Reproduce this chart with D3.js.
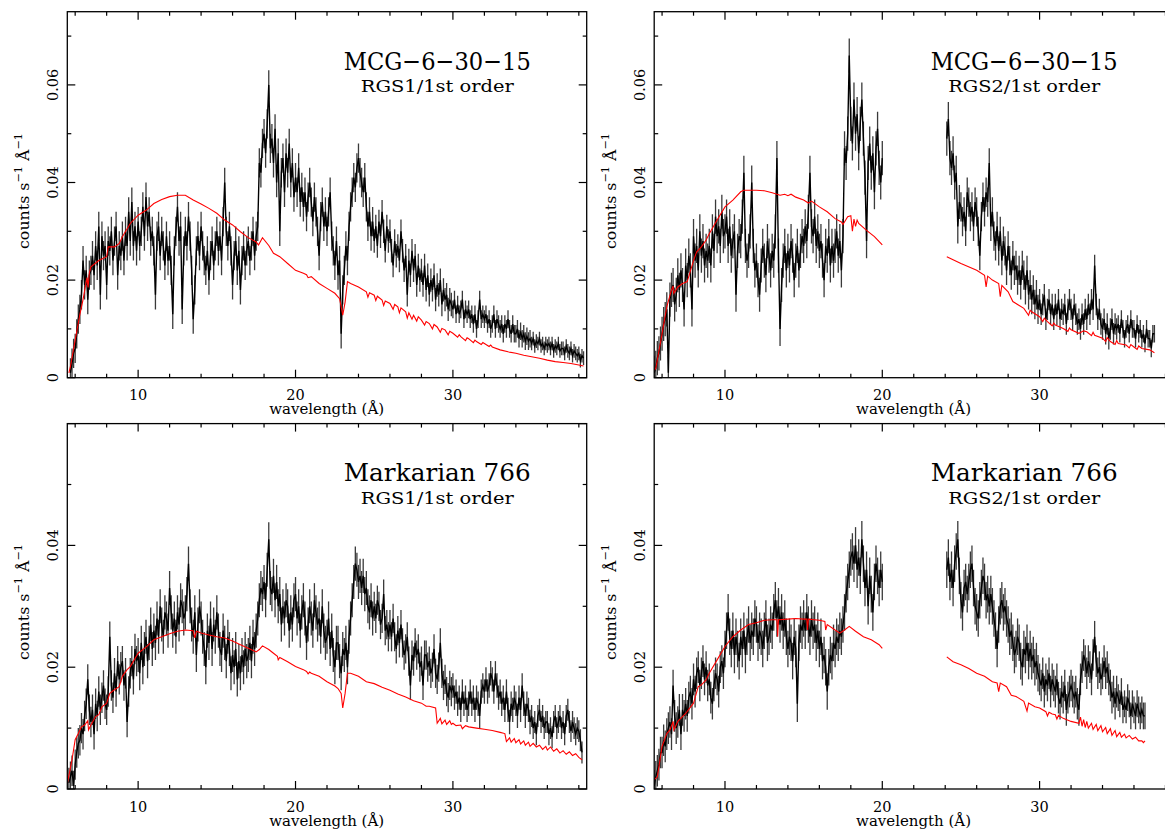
<!DOCTYPE html>
<html>
<head>
<meta charset="utf-8">
<script src="https://cdn.jsdelivr.net/npm/d3@7"></script>
<style>
  html, body { margin: 0; padding: 0; background: #fff; }
  svg { display: block; }
  text { font-family: "DejaVu Serif", "Liberation Serif", serif; fill: #000; }
</style>
</head>
<body>
<svg id="chart" width="1165" height="832"></svg>
<script>
// Rates are in units of 1e-3 counts s^-1 Å^-1; spectra are binned every 0.1 Å.
const STEP = 0.1;

// ---------- MCG-6-30-15, RGS1 ----------
const mcgRgs1Start = 5.7;
const mcgRgs1Rate = [
  1, 3, 5,
  6, 9, 12, 14, 17, 24, 19, 22, 16, 21,
  22, 25, 21, 27, 23, 31, 17, 29, 25, 27,
  19, 28, 26, 30, 24, 28, 31, 21, 27, 25,
  29, 24, 30, 27, 34, 28, 36, 27, 31, 26,
  32, 27, 30, 35, 29, 37, 31, 34, 28, 30,
  26, 17, 29, 31, 25, 30, 27, 23, 29, 24,
  27, 22, 13, 26, 30, 35, 28, 31, 14, 26,
  30, 27, 33, 29, 22, 12, 18, 26, 29, 25,
  31, 27, 24, 22, 26, 20, 25, 28, 23, 27,
  30, 26, 29, 24, 32, 40, 30, 27, 31, 26,
  19, 25, 28, 22, 26, 18, 24, 27, 23, 26,
  28, 24, 27, 30, 25, 29, 31, 44, 42, 48,
  50, 46, 52, 60, 47, 49, 44, 51, 40, 46,
  30, 42, 45, 38, 46, 42, 48, 40, 44, 37,
  41, 38, 43, 36, 39, 35, 38, 33, 37, 40,
  36, 32, 37, 34, 30, 25, 33, 36, 31, 34,
  30, 34, 38, 29, 26, 23, 28, 21, 24, 9,
  18, 22, 27, 24, 31, 35, 38, 41, 39, 43,
  45, 42, 40, 38, 41, 35, 31, 34, 29, 32,
  28, 31, 27, 32, 29, 34, 30, 26, 31, 28,
  30, 26, 23, 28, 25, 27, 24, 30, 26, 22,
  25, 17, 24, 21, 26, 22, 25, 19, 23, 20,
  22, 19, 23, 18, 21, 17, 20, 18, 21, 16,
  19, 17, 20, 15, 18, 16, 17, 14, 16, 15,
  14, 16, 13, 15, 13, 14, 16, 12, 14, 13,
  14, 12, 13, 11, 13, 10, 12, 16, 12, 13,
  12, 13, 11, 12, 10, 11, 13, 10, 12, 11,
  10, 11, 9, 11, 10, 12, 10, 9, 11, 9,
  9, 10, 8, 9.5, 8, 9, 7.5, 8.5, 7.5, 8,
  7, 8, 6.5, 7.5, 7, 8, 6.5, 7, 6, 7,
  6.5, 7, 6, 7, 5.5, 6.5, 6, 7, 5.5, 6,
  6, 5, 6.5, 5.5, 5, 6, 4.5, 5.5, 5, 4.5,
  5, 3.5, 4.5, 4
];
// error half-widths for 5 Å blocks starting at 5 Å
const mcgRgs1Err = [3.0, 3.0, 3.0, 3.0, 2.4, 1.8, 1.4];
const mcgRgs1Model = [
  [5.6,1],[5.7,2.3],[6.0,7.7],[6.3,13],[6.5,16],[6.75,20.5],[6.82,18.5],[6.9,21.5],[7.0,22.7],
  [7.5,24],[8.0,24.8],[8.1,26.8],[8.5,26.8],[8.8,27.5],[9.0,28.9],[9.5,31.6],[10,33.3],
  [10.5,34.3],[11,35.7],[11.5,36.5],[12,37.1],[12.5,37.4],[13,37.4],[13.5,36.4],[14,35.6],
  [14.5,34.7],[15,33.7],[15.5,32.3],[16,31.3],[16.5,29.9],[17,28.7],[17.5,27.8],[17.65,27.2],
  [17.9,28.7],[18.3,27.1],[18.6,25.5],[19,24.8],[19.5,23.4],[20,22],[20.5,21.4],[20.7,21.1],
  [20.8,20.5],[21,20.7],[21.5,19.3],[22,18.3],[22.5,17.3],[22.8,16.2],[22.9,14.5],[23.0,12.8],
  [23.15,15.5],[23.3,19.7],[23.5,19.3],[24,18.6],[24.5,17.6],[24.6,16.5],[24.7,17.4],[25,16.9],
  [25.1,15.8],[25.2,16.7],[25.5,15.9],[25.6,14.8],[25.7,15.7],[26,15.2],[26.2,14.0],[26.3,15.0],
  [26.5,14.5],[26.6,13.3],[26.7,14.3],[27,13.5],[27.1,12.2],[27.2,13.3],[27.4,12.0],[27.5,12.8],
  [27.7,11.6],[27.8,12.5],[28,11.8],[28.2,10.8],[28.3,11.5],[28.5,11.1],[28.7,10.0],[28.8,10.9],
  [29,10.4],[29.2,9.3],[29.3,10.1],[29.5,9.8],[29.7,8.8],[29.8,9.5],[30,9.1],[30.3,8.3],[30.4,8.8],
  [30.5,8.4],[30.8,7.6],[30.9,8.2],[31,8],[31.3,7.2],[31.4,7.7],[31.5,7.4],[31.8,6.8],[31.9,7.2],
  [32,7],[32.3,6.4],[32.4,6.7],[32.5,6.3],[33,5.7],[33.5,5.3],[34,5],[34.5,4.6],[35,4.3],
  [35.5,4.0],[36,3.6],[36.5,3.3],[37,3.1],[37.5,2.9],[38,2.6],[38.3,2.4]
];

// ---------- MCG-6-30-15, RGS2 (no coverage 20–24 Å) ----------
const mcgRgs2StartA = 5.5;
const mcgRgs2RateA = [
  1, 2, 4, 5, 7,
  9, 11, 12, 14, 1, 16, 18, 19, 15, 17,
  21, 18, 22, 19, 14, 23, 20, 25, 22, 14,
  29, 24, 27, 22, 30, 25, 28, 23, 26, 24,
  27, 23, 30, 26, 33, 29, 31, 27, 34, 29,
  30, 33, 27, 31, 25, 28, 30, 17, 26, 29,
  28, 33, 42, 27, 24, 26, 30, 40, 27, 22,
  24, 20, 17, 23, 27, 24, 21, 28, 25, 22,
  26, 24, 30, 45, 25, 10, 19, 24, 27, 22,
  26, 23, 28, 25, 20, 24, 27, 22, 26, 29,
  27, 31, 28, 34, 42, 31, 29, 33, 27, 30,
  26, 28, 24, 20, 27, 25, 29, 23, 27, 24,
  27, 30, 25, 28, 22, 29, 47, 44, 50, 66,
  52, 48, 57, 50, 54, 46, 52, 57, 49, 41,
  28, 44, 48, 42, 46, 38, 47, 51, 43, 40,
  45
];
const mcgRgs2StartB = 24.1;
const mcgRgs2RateB = [
  49, 53, 45, 43, 46, 40, 42, 31, 36,
  35, 32, 34, 30, 38, 36, 33, 35, 31, 36,
  34, 30, 25, 33, 37, 34, 38, 36, 44, 31,
  34, 29, 27, 31, 26, 30, 24, 28, 26, 22,
  27, 24, 21, 25, 22, 23, 20, 22, 19, 23,
  21, 18, 22, 17, 19, 16, 18, 15, 17, 14,
  16, 13, 15, 17, 12, 14, 16, 13, 15, 12,
  15, 13, 16, 12, 14, 13, 15, 11, 14, 16,
  14, 12, 15, 13, 11, 12, 10, 13, 11, 14,
  12, 15, 13, 16, 14, 23, 15, 12, 14, 11,
  10, 12, 9, 11, 8, 10, 12, 9, 11, 10,
  11, 9, 12, 10, 8, 10, 11, 9, 12, 10,
  10, 8, 11, 9, 10, 8, 9, 7, 10, 8,
  8, 6, 9, 9
];
const mcgRgs2Err = [3.5, 3.5, 3.5, 3.5, 3.0, 2.2, 1.8];
const mcgRgs2ModelA = [
  [5.5,1.5],[5.6,1.9],[6.0,9],[6.3,14.5],[6.6,18],[6.7,18.8],[6.75,17.3],[7.0,18.6],[7.3,19.3],
  [7.6,19.7],[8.0,24],[8.2,25.8],[8.5,26.8],[8.8,28.2],[9,29.5],[9.5,32.3],[10,35],[10.5,36.4],
  [11,38.1],[11.2,38.4],[12,38.4],[12.5,38.3],[13,37.9],[13.5,37.4],[13.8,37.6],[14,37.3],
  [14.2,37.6],[14.5,37],[15,36.4],[15.3,35.8],[15.5,36.2],[16,35],[16.5,34],[17,32.6],[17.4,31.9],
  [17.5,31.4],[17.8,33],[18.0,33.2],[18.1,30],[18.2,32.5],[18.3,31],[18.4,32.3],[18.5,31.6],
  [19,30.2],[19.5,28.9],[20,27.2]
];
const mcgRgs2ModelB = [
  [24.1,24.8],[25,23.4],[26,22],[26.5,21],[26.6,18.6],[26.7,20.8],[27,20],[27.4,19.3],[27.5,16.6],
  [27.6,18.9],[28,17.6],[28.3,15.6],[28.5,15.2],[29,14.2],[29.3,12.8],[29.4,13.8],[29.5,13.5],
  [30,12.5],[30.2,11.5],[30.3,12.2],[30.5,11.5],[30.8,10.6],[30.9,11.2],[31,10.8],[31.5,10.1],
  [31.8,9.5],[31.9,10.2],[32,9.8],[32.5,9.1],[32.8,9.6],[33,9.4],[33.3,8.6],[33.4,9.3],[33.5,8.7],
  [34,8.1],[34.2,7.4],[34.3,8.2],[34.5,7.4],[34.8,6.8],[34.9,7.6],[35,7],[35.5,6.7],[35.7,6.1],
  [35.8,6.8],[36,6.3],[36.2,5.8],[36.3,6.5],[36.5,6],[37,5.7],[37.3,5.1]
];

// ---------- Markarian 766, RGS1 ----------
const mrkRgs1Start = 5.6;
const mrkRgs1Rate = [
  1, 2, 3, 0.5,
  4, 6, 7.5, 8, 10, 9, 12, 14, 18, 13,
  11, 13, 9, 14, 12, 16, 13, 15, 17, 14,
  13, 16, 25, 17, 15, 19, 16, 21, 18, 20,
  21, 17, 19, 11, 16, 19, 21, 18, 23, 21,
  22, 19, 24, 20, 23, 25, 21, 24, 27, 23,
  26, 24, 28, 25, 30, 27, 25, 29, 28, 26,
  33, 29, 26, 28, 25, 29, 27, 31, 30, 28,
  29, 32, 37, 30, 27, 25, 29, 22, 27, 30,
  28, 25, 23, 20, 26, 24, 28, 23, 27, 25,
  29, 26, 23, 22, 26, 24, 21, 25, 23, 19,
  22, 20, 23, 18, 21, 19, 22, 20, 23, 21,
  22, 24, 21, 25, 23, 26, 28, 31, 33, 32,
  34, 31, 36, 41, 33, 32, 35, 31, 34, 30,
  32, 27, 30, 28, 31, 30, 26, 29, 27, 31,
  32, 28, 30, 26, 29, 31, 28, 24, 27, 30,
  28, 26, 31, 29, 27, 28, 25, 30, 26, 24,
  25, 28, 23, 26, 22, 20, 24, 24, 21, 19,
  23, 22, 24, 20, 25, 28, 31, 34, 37, 36,
  34, 35, 33, 35, 32, 33, 30, 29, 31, 28,
  30, 28, 31, 30, 27, 28, 32, 26, 27, 25,
  27, 25, 28, 25, 23, 26, 24, 27, 24, 22,
  23, 25, 21, 17, 22, 21, 24, 22, 23, 20,
  21, 17, 22, 22, 20, 21, 19, 20, 23, 19,
  18, 20, 24, 19, 17, 18, 16, 15, 17, 16,
  17, 15, 16, 14, 15, 13, 16, 14, 15, 13,
  14, 16, 14, 15, 13, 15, 14, 12, 16, 17,
  16, 18, 16, 17, 19, 18, 16, 19, 17, 15,
  16, 14, 15, 13, 16, 13, 11, 14, 13, 15,
  14, 12, 15, 13, 17, 14, 12, 14, 13, 11,
  12, 10, 11, 9, 12, 13, 11, 12, 10, 11,
  11, 9, 10, 8.5, 11, 12, 10, 11, 12, 10,
  11, 9, 12, 13, 11, 9.5, 11, 10, 9, 10,
  9.5, 8, 6
];
const mrkRgs1Err = [2.5, 2.8, 2.8, 2.8, 2.4, 2.0, 1.8];
const mrkRgs1Model = [
  [5.5,0.9],[5.8,4.8],[6.0,8.1],[6.2,9.1],[6.4,10.2],[6.6,10.5],[6.8,11.2],[6.85,9.7],[7.0,10.5],
  [7.3,11.9],[7.5,12.2],[7.7,13.5],[8,14.1],[8.2,15.7],[8.5,16.3],[8.8,16.8],[9,18.5],[9.3,19.6],
  [9.5,20.1],[10,22.3],[10.5,23.3],[11,24.5],[11.5,25],[12,25.5],[12.5,25.9],[13,26.1],[13.5,26],
  [13.6,24.8],[13.7,25.9],[14,25.6],[14.5,25.3],[15,25],[15.5,24.8],[16,24.3],[16.5,23.7],
  [17,23.1],[17.5,22.5],[17.7,22.9],[17.9,23.5],[18.3,22.9],[18.6,22.3],[18.85,21.8],[18.9,21.2],
  [19,21.6],[19.5,20.9],[20,20.1],[20.5,19.6],[20.7,19.3],[20.8,18.9],[20.9,19.2],[21,19],
  [21.5,18.5],[22,17.6],[22.5,16.9],[22.7,16.5],[22.9,15.7],[23.0,13.3],[23.15,15.7],[23.3,19],
  [23.5,19],[24,18.5],[24.5,17.6],[25,17.3],[25.5,16.7],[26,16.2],[26.5,15.6],[27,15.1],
  [27.5,14.5],[28,14.1],[28.3,13.6],[28.5,13.6],[28.9,13.3],[29.0,10.8],[29.2,11.6],[29.3,10.7],
  [29.5,11.3],[29.6,10.6],[29.8,11.2],[29.9,10.6],[30,10.8],[30.2,10.4],[30.5,10.5],[30.6,9.9],
  [30.8,10.4],[31,10.2],[31.5,10],[32,9.8],[32.5,9.6],[33,9.3],[33.3,9.1],[33.4,7.8],[33.6,8.4],
  [33.7,7.7],[33.9,8.3],[34.0,7.6],[34.2,8.1],[34.3,7.4],[34.5,7.9],[34.6,7.2],[34.8,7.7],
  [34.9,7],[35.1,7.5],[35.3,6.9],[35.5,7.2],[35.7,6.5],[35.9,7.0],[36,6.4],[36.2,6.9],[36.4,6.2],
  [36.6,6.6],[36.8,5.9],[37,6.3],[37.2,5.7],[37.4,6.1],[37.6,5.5],[37.8,5.8],[38,5.2],[38.2,4.8]
];

// ---------- Markarian 766, RGS2 (no coverage 20–24 Å) ----------
const mrkRgs2StartA = 5.5;
const mrkRgs2RateA = [
  0.5, 2, 3, 4, 6,
  6, 8, 7, 9, 10, 11, 9, 17, 12, 10,
  11, 13, 9, 13, 12, 14, 12, 15, 16, 14,
  18, 16, 19, 20, 17, 19, 21, 18, 20, 17,
  18, 15, 14, 17, 19, 18, 16, 20, 21, 19,
  23, 26, 29, 25, 23, 26, 22, 25, 23, 21,
  25, 23, 26, 22, 25, 27, 24, 26, 25, 28,
  27, 24, 26, 25, 23, 26, 28, 24, 25, 27,
  26, 29, 31, 28, 30, 27, 29, 26, 28, 25,
  23, 25, 24, 21, 25, 23, 14, 24, 27, 26,
  28, 26, 29, 27, 25, 28, 26, 27, 24, 26,
  23, 25, 21, 22, 20, 16, 20, 22, 21, 24,
  23, 25, 24, 26, 25, 27, 29, 32, 34, 36,
  38, 39, 37, 40, 36, 38, 35, 41, 37, 33,
  36, 30, 35, 32, 29, 34, 37, 35, 33, 36,
  34
];
const mrkRgs2StartB = 24.1;
const mrkRgs2RateB = [
  36, 38, 34, 36, 33, 37, 39, 41, 35,
  31, 29, 33, 34, 32, 34, 36, 37, 33, 30,
  29, 28, 31, 33, 35, 34, 31, 32, 30, 32,
  30, 28, 26, 23, 27, 30, 31, 29, 30, 28,
  27, 25, 26, 24, 22, 23, 25, 24, 21, 20,
  23, 22, 24, 21, 23, 21, 22, 20, 21, 19,
  18, 17, 19, 16, 18, 17, 19, 16, 18, 17,
  16, 18, 15, 14, 16, 15, 17, 13, 15, 16,
  17, 16, 15, 16, 14, 13, 18, 20, 22, 21,
  19, 21, 20, 18, 22, 25, 21, 19, 20, 18,
  19, 21, 19, 20, 18, 17, 15, 16, 14, 16,
  15, 14, 16, 13, 14, 13, 15, 14, 12, 14,
  13, 12, 14, 13, 12, 13, 12, 12
];
const mrkRgs2Err = [2.6, 3.0, 3.0, 3.0, 3.0, 2.6, 2.2];
const mrkRgs2ModelA = [
  [5.5,1.5],[5.7,2],[6.0,7],[6.3,9.1],[6.5,9.7],[6.7,11.1],[6.75,9.7],[7.0,11.1],[7.5,12.4],
  [8,14.1],[8.3,16.8],[8.5,17.1],[8.8,17.9],[9,19],[9.5,21.2],[10,23.4],[10.5,25],[11,26.1],
  [11.5,27],[12,27.3],[12.5,27.7],[13,27.8],[13.3,27.8],[13.35,25],[13.4,27.8],[14,27.9],
  [14.5,28],[15,27.9],[15.2,27.9],[15.25,26.1],[15.3,27.9],[16,27.7],[16.35,27.5],[16.4,26.1],
  [16.5,27],[17,26.1],[17.3,25.6],[17.6,26.1],[17.9,26.7],[18.3,25.9],[18.8,25],[19.3,24.5],
  [19.8,23.7],[20,23.1]
];
const mrkRgs2ModelB = [
  [24.1,21.7],[24.5,20.9],[25,20.4],[25.5,19.8],[26,19],[26.5,18.5],[27,17.6],[27.3,17.4],
  [27.4,16.0],[27.5,17.4],[27.9,16.8],[28.2,15.4],[28.5,15.2],[29,14.4],[29.2,12.8],[29.3,14.1],
  [29.7,13.5],[30,13.3],[30.4,12.7],[30.5,12.0],[30.6,12.6],[30.8,12.3],[31,12.2],[31.1,11.5],
  [31.2,12.1],[31.5,11.6],[32,11.1],[32.5,10.8],[32.6,11.8],[32.7,10.3],[32.8,11.4],[32.9,10.1],
  [33,11.1],[33.1,10.0],[33.3,10.8],[33.4,9.8],[33.6,10.6],[33.7,9.6],[33.9,10.4],[34,9.4],
  [34.2,10.1],[34.3,9.1],[34.5,9.9],[34.6,8.8],[34.8,9.6],[34.9,8.6],[35.1,9.3],[35.2,8.5],
  [35.4,9.0],[35.5,8.4],[35.7,8.8],[35.9,8.2],[36.1,8.5],[36.3,7.9],[36.5,7.9],[36.6,7.6],[36.7,7.9]
];

// axis ranges and labels
const waveDomain = [5.5, 38.5];
const waveMajor = [10, 20, 30];
const topRateMax = 75;      // 0.075
const bottomRateMax = 60;   // 0.06
const xTitle = "wavelength (Å)";

// ---------- helpers ----------
function binned(start, rates) {
  return rates.map((v, i) => ({ w: Math.round((start + i * STEP) * 100) / 100, v }));
}
function errAt(errs, w) {
  const k = Math.max(0, Math.min(errs.length - 1, Math.floor((w - 5) / 5)));
  return errs[k];
}

const panels = [
  { box: [67.3, 586.7, 11.7, 377.7], yMax: topRateMax, title: "MCG−6−30−15", sub: "RGS1/1st order",
    spectra: [binned(mcgRgs1Start, mcgRgs1Rate)], models: [mcgRgs1Model], errs: mcgRgs1Err,
    titleY: 70, subY: 91.5, titleW: 187, subW: 153, labelCY: 191 },
  { box: [654.2, 1173.3, 11.7, 377.7], yMax: topRateMax, title: "MCG−6−30−15", sub: "RGS2/1st order",
    spectra: [binned(mcgRgs2StartA, mcgRgs2RateA), binned(mcgRgs2StartB, mcgRgs2RateB)],
    models: [mcgRgs2ModelA, mcgRgs2ModelB], errs: mcgRgs2Err,
    titleY: 70, subY: 91.5, titleW: 187, subW: 152, labelCY: 191 },
  { box: [67.3, 586.7, 423.6, 789], yMax: bottomRateMax, title: "Markarian 766", sub: "RGS1/1st order",
    spectra: [binned(mrkRgs1Start, mrkRgs1Rate)], models: [mrkRgs1Model], errs: mrkRgs1Err,
    titleY: 481, subY: 503.5, titleW: 187, subW: 153, labelCY: 602 },
  { box: [654.2, 1173.3, 423.6, 789], yMax: bottomRateMax, title: "Markarian 766", sub: "RGS2/1st order",
    spectra: [binned(mrkRgs2StartA, mrkRgs2RateA), binned(mrkRgs2StartB, mrkRgs2RateB)],
    models: [mrkRgs2ModelA, mrkRgs2ModelB], errs: mrkRgs2Err,
    titleY: 481, subY: 503.5, titleW: 187, subW: 152, labelCY: 602 }
];

const svg = d3.select("#chart");
const fmtRate = v => v === 0 ? "0" : d3.format(".2f")(v / 1000);

panels.forEach((p, idx) => {
  const [x0, x1, y0, y1] = p.box;
  const x = d3.scaleLinear().domain(waveDomain).range([x0, x1]);
  const y = d3.scaleLinear().domain([0, p.yMax]).range([y1, y0]);
  const g = svg.append("g");

  const clipId = "clip" + idx;
  g.append("clipPath").attr("id", clipId)
    .append("rect").attr("x", x0).attr("y", y0).attr("width", x1 - x0).attr("height", y1 - y0);
  const plot = g.append("g").attr("clip-path", `url(#${clipId})`);

  // spectra: error bars plus the connecting line
  p.spectra.forEach(seg => {
    plot.append("g").selectAll("line").data(seg).join("line")
      .attr("x1", d => x(d.w)).attr("x2", d => x(d.w))
      .attr("y1", d => y(d.v - errAt(p.errs, d.w)))
      .attr("y2", d => y(d.v + errAt(p.errs, d.w)))
      .attr("stroke", "#3a3a3a").attr("stroke-width", 1.3);
    plot.append("path").datum(seg)
      .attr("d", d3.line().x(d => x(d.w)).y(d => y(d.v)))
      .attr("fill", "none").attr("stroke", "#000").attr("stroke-width", 1.4);
  });

  // model curves
  p.models.forEach(m => {
    plot.append("path").datum(m)
      .attr("d", d3.line().x(d => x(d[0])).y(d => y(d[1])))
      .attr("fill", "none").attr("stroke", "#ff0000").attr("stroke-width", 1.1);
  });

  // axes with inward ticks on all four sides
  const xMinor = d3.range(6, 39, 2).filter(v => !waveMajor.includes(v));
  const yMajor = d3.range(0, p.yMax + 0.1, 20);
  const yMinor = d3.range(10, p.yMax + 0.1, 20);
  const tickPaths = [];
  waveMajor.forEach(v => { tickPaths.push([x(v), y1, x(v), y1 - 8]); tickPaths.push([x(v), y0, x(v), y0 + 8]); });
  xMinor.forEach(v => { tickPaths.push([x(v), y1, x(v), y1 - 4]); tickPaths.push([x(v), y0, x(v), y0 + 4]); });
  yMajor.forEach(v => { tickPaths.push([x0, y(v), x0 + 8, y(v)]); tickPaths.push([x1, y(v), x1 - 8, y(v)]); });
  yMinor.forEach(v => { tickPaths.push([x0, y(v), x0 + 4, y(v)]); tickPaths.push([x1, y(v), x1 - 4, y(v)]); });
  g.append("g").selectAll("line").data(tickPaths).join("line")
    .attr("x1", d => d[0]).attr("y1", d => d[1]).attr("x2", d => d[2]).attr("y2", d => d[3])
    .attr("stroke", "#000").attr("stroke-width", 1.2);
  g.append("rect").attr("x", x0).attr("y", y0).attr("width", x1 - x0).attr("height", y1 - y0)
    .attr("fill", "none").attr("stroke", "#000").attr("stroke-width", 1.3);

  // tick labels
  g.append("g").selectAll("text").data(waveMajor).join("text")
    .attr("x", d => x(d)).attr("y", y1 + 22.5)
    .attr("text-anchor", "middle").attr("font-size", 14.5).text(d => d);
  g.append("g").selectAll("text").data(yMajor.filter(v => v < p.yMax - 5)).join("text")
    .attr("transform", d => `translate(${x0 - 9},${y(d)}) rotate(-90)`)
    .attr("text-anchor", "middle").attr("font-size", 14.5).text(fmtRate);

  // axis titles
  g.append("text").attr("x", (x0 + 518.7 / 2)).attr("y", y1 + 36.5)
    .attr("text-anchor", "middle").attr("font-size", 14.5)
    .attr("textLength", 115).attr("lengthAdjust", "spacingAndGlyphs").text(xTitle);
  const yt = g.append("text")
    .attr("transform", `translate(${x0 - 38},${p.labelCY}) rotate(-90)`)
    .attr("text-anchor", "middle").attr("font-size", 15.5)
    .attr("textLength", 116).attr("lengthAdjust", "spacingAndGlyphs");
  yt.append("tspan").text("counts s");
  yt.append("tspan").attr("dy", -7).attr("font-size", 11).text("−1");
  yt.append("tspan").attr("dy", 7).text(" Å");
  yt.append("tspan").attr("dy", -7).attr("font-size", 11).text("−1");

  // panel titles
  const cx = x0 + 370;
  g.append("text").attr("x", cx).attr("y", p.titleY).attr("text-anchor", "middle")
    .attr("font-size", 25).attr("textLength", p.titleW).attr("lengthAdjust", "spacingAndGlyphs")
    .text(p.title);
  g.append("text").attr("x", cx).attr("y", p.subY).attr("text-anchor", "middle")
    .attr("font-size", 17).attr("textLength", p.subW).attr("lengthAdjust", "spacingAndGlyphs")
    .text(p.sub);
});
</script>
</body>
</html>
